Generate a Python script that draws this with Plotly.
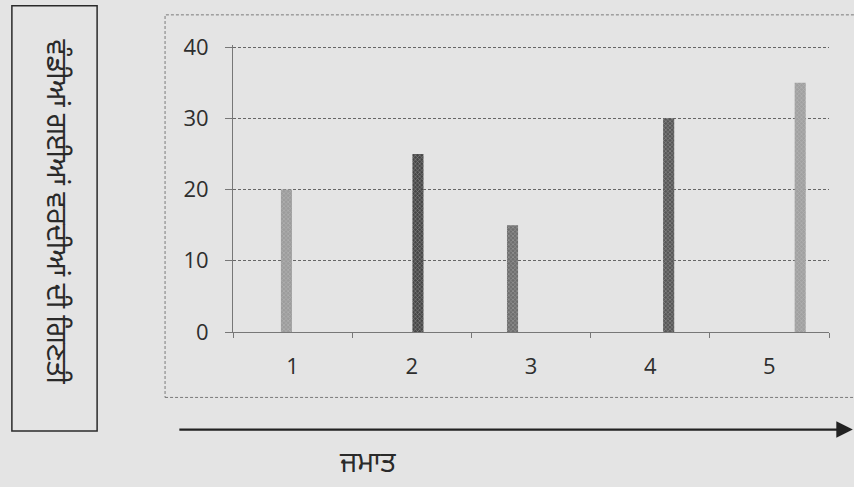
import plotly.graph_objects as go

# ---- data ----
categories = ["1", "2", "3", "4", "5"]
values = [20, 25, 15, 30, 35]
# which series (in the original spreadsheet order) holds each category's value
series_of_category = [2, 3, 1, 4, 5]
n_series = 6
bar_colors = ["#9c9c9c", "#464646", "#6e6e6e", "#565656", "#a0a0a0"]
y_ticks = [0, 10, 20, 30, 40]
y_title = "ਵੰਡੀਆਂ ਗਈਆਂ ਵਰਦੀਆਂ ਦੀ ਗਿਣਤੀ"
x_title = "ਜਮਾਤ"

PAGE = "#e4e4e4"
FONT = "Noto Sans Gurmukhi, Noto Sans, DejaVu Sans, sans-serif"

fig = go.Figure()
for s in range(n_series):
    ys = [None] * len(categories)
    color = "#888888"
    for ci, sc in enumerate(series_of_category):
        if sc == s:
            ys[ci] = values[ci]
            color = bar_colors[ci]
    fig.add_trace(go.Bar(
        x=categories, y=ys, name=f"s{s}",
        marker=dict(color=color, line=dict(width=0),
                    pattern=dict(shape="x", size=3, solidity=0.35,
                                 fgcolor="#cccccc", fillmode="overlay")),
        showlegend=False, hoverinfo="skip",
    ))

fig.update_layout(
    width=854, height=487,
    margin=dict(l=233, r=25, t=45, b=155),
    paper_bgcolor=PAGE, plot_bgcolor=PAGE,
    barmode="group", bargap=0.38, bargroupgap=0.1,
    font=dict(family="Open Sans, Liberation Sans, sans-serif", color="#2e2e2e"),
    xaxis=dict(
        type="category", tickson="boundaries", ticks="outside", ticklen=5,
        tickcolor="#777777", showline=True, linecolor="#777777", linewidth=1,
        showgrid=False, tickfont=dict(size=22), ticklabelstandoff=15,
    ),
    yaxis=dict(
        range=[0, 40.3], tickvals=y_ticks, ticks="outside", ticklen=7,
        tickcolor="#777777", showline=True, linecolor="#777777", linewidth=1,
        showgrid=True, gridcolor="#666666", griddash="3px,2px", gridwidth=1,
        zeroline=False, tickfont=dict(size=22), ticklabelstandoff=12,
    ),
)

# outer dashed chart frame
fig.add_shape(type="rect", xref="paper", yref="paper",
              x0=-0.114, x1=1.2, y0=-0.228, y1=1.105,
              line=dict(color="#7a7a7a", width=1, dash="3px,2px"), layer="below")

# y-title box
fig.add_shape(type="rect", xref="paper", yref="paper",
              x0=-0.371, x1=-0.228, y0=-0.345, y1=1.137,
              line=dict(color="#2a2a2a", width=1.5))
fig.add_annotation(text=y_title, xref="paper", yref="paper",
                   x=-0.2995, y=0.418, xanchor="center", yanchor="middle",
                   textangle=90, showarrow=False,
                   font=dict(family=FONT, size=28, color="#2a2a2a"))

# x arrow
fig.add_annotation(xref="paper", yref="paper", axref="pixel", ayref="pixel",
                   x=1.04, y=-0.34, ax=-675, ay=0, text="",
                   showarrow=True, arrowhead=2, arrowsize=1.5, arrowwidth=2.2,
                   arrowcolor="#222222")
fig.add_annotation(text=x_title, xref="paper", yref="paper",
                   x=0.2265, y=-0.465, xanchor="center", yanchor="middle",
                   showarrow=False,
                   font=dict(family=FONT, size=28, color="#2a2a2a"))

fig.write_html("out.html", config={"displayModeBar": False},
               post_script="document.body.style.margin='0';"
                           "document.body.style.background='#e4e4e4';")
